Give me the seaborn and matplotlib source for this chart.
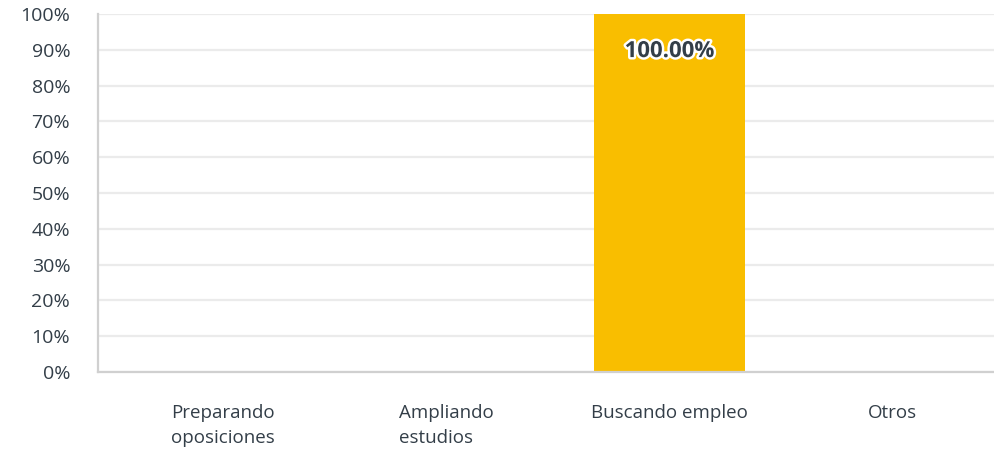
import matplotlib
matplotlib.use("Agg")
import matplotlib.pyplot as plt
import matplotlib.patheffects as pe
from matplotlib.ticker import PercentFormatter
import seaborn as sns
import pandas as pd

categories = ["Preparando\noposiciones", "Ampliando\nestudios", "Buscando empleo", "Otros"]
values = [0.0, 0.0, 100.0, 0.0]
yticks = [0, 10, 20, 30, 40, 50, 60, 70, 80, 90, 100]

TEXT = "#333e48"
BAR = "#f9be00"

sns.set_theme(style="white")
plt.rcParams["font.family"] = ["Open Sans", "DejaVu Sans"]

df = pd.DataFrame({"cat": categories, "val": values})

fig = plt.figure(figsize=(9.94, 4.51), dpi=100)
ax = fig.add_axes([0.0986, 0.175, 0.9014, 0.794])

sns.barplot(data=df, x="cat", y="val", color=BAR, width=0.675,
            saturation=1, linewidth=0, ax=ax, zorder=3)

ax.set_ylim(0, 100)
ax.set_xlim(-0.56, 3.455)
ax.set_yticks(yticks)
ax.yaxis.set_major_formatter(PercentFormatter(decimals=0))
ax.grid(axis="y", color="#ebebeb", linewidth=1.6, zorder=0)
ax.set_xlabel("")
ax.set_ylabel("")

for side in ["top", "right"]:
    ax.spines[side].set_visible(False)
for side in ["left", "bottom"]:
    ax.spines[side].set_color("#d0d0d0")
    ax.spines[side].set_linewidth(1.6)
    ax.spines[side].set_zorder(4)

ax.tick_params(axis="y", length=0, pad=20, labelsize=14, labelcolor=TEXT)
ax.tick_params(axis="x", length=0, pad=23, labelsize=13.5, labelcolor=TEXT)
for lab in ax.get_xticklabels():
    lab.set_multialignment("left")
    lab.set_linespacing(1.5)
    lab.set_verticalalignment("top")

for i, v in enumerate(values):
    if v > 0:
        ax.text(i, v - 10.5, f"{v:.2f}%", ha="center", va="center",
                fontsize=16, fontweight="bold", color=TEXT, zorder=5,
                path_effects=[pe.withStroke(linewidth=3.5, foreground="white")])

fig.savefig("out.png", dpi=100)
